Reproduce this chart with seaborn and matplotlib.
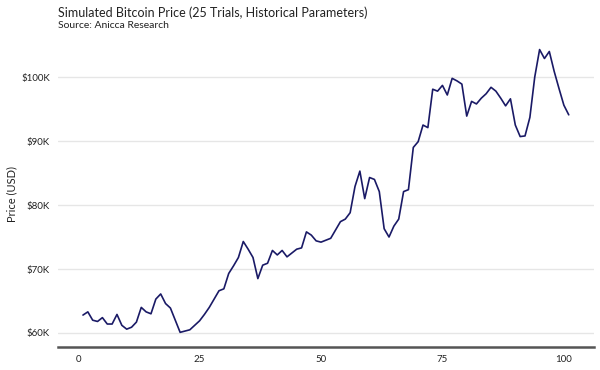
import pandas as pd
import seaborn as sns
import matplotlib.pyplot as plt
from matplotlib.ticker import FuncFormatter

# simulated price path, in thousands of USD
steps = list(range(1, 102))
price_k = [
    62.8, 63.3, 62.0, 61.8, 62.4, 61.4, 61.4, 62.9, 61.2, 60.6,
    60.9, 61.7, 64.0, 63.3, 63.0, 65.3, 66.1, 64.6, 63.9, 62.0,
    60.1, 60.3, 60.5, 61.2, 61.9, 62.9, 64.0, 65.3, 66.6, 66.9,
    69.3, 70.5, 71.8, 74.3, 73.1, 71.8, 68.5, 70.6, 70.9, 72.9,
    72.2, 72.9, 71.9, 72.5, 73.1, 73.3, 75.8, 75.3, 74.4, 74.2,
    74.5, 74.8, 76.1, 77.4, 77.8, 78.8, 82.9, 85.3, 81.0, 84.3,
    84.0, 82.1, 76.3, 75.0, 76.7, 77.8, 82.1, 82.4, 89.0, 89.9,
    92.5, 92.1, 98.1, 97.8, 98.7, 97.2, 99.8, 99.4, 98.9, 93.9,
    96.2, 95.8, 96.7, 97.4, 98.4, 97.8, 96.7, 95.5, 96.6, 92.5,
    90.7, 90.8, 93.7, 100.0, 104.3, 102.9, 104.0, 100.9, 98.2, 95.6,
    94.1,
]
y_ticks_k = [60, 70, 80, 90, 100]
x_ticks = [0, 25, 50, 75, 100]

df = pd.DataFrame({"step": steps, "price": [p * 1000 for p in price_k]})

sns.set_style("white")
plt.rcParams['font.family'] = ['Lato', 'DejaVu Sans']

fig = plt.figure(figsize=(6, 3.7), dpi=100)
ax = fig.add_axes([0.097, 0.062, 0.893, 0.83])

sns.lineplot(data=df, x="step", y="price", color="#1a1a66", linewidth=1.2, ax=ax)

ax.set_xlim(-4.1, 106.2)
ax.set_ylim(57800, 105800)
ax.set_xticks(x_ticks)
ax.set_yticks([v * 1000 for v in y_ticks_k])
ax.yaxis.set_major_formatter(FuncFormatter(lambda v, _: f"${v / 1000:.0f}K"))
ax.tick_params(axis="both", length=0, labelsize=7, colors="#222222", pad=6)

ax.grid(axis="y", color="#e6e6e6", linewidth=1)
ax.set_axisbelow(True)
for side in ["top", "right", "left"]:
    ax.spines[side].set_visible(False)
ax.spines["bottom"].set_color("#555555")
ax.spines["bottom"].set_linewidth(1.8)

ax.set_xlabel("")
ax.set_ylabel("Price (USD)", fontsize=8, color="#222222", labelpad=3)

fig.text(0.097, 0.966, "Simulated Bitcoin Price (25 Trials, Historical Parameters)",
         fontsize=9, color="#222222", va="center")
fig.text(0.097, 0.93, "Source: Anicca Research", fontsize=7.5, color="#222222", va="center")

plt.savefig("out.png", dpi=100)
